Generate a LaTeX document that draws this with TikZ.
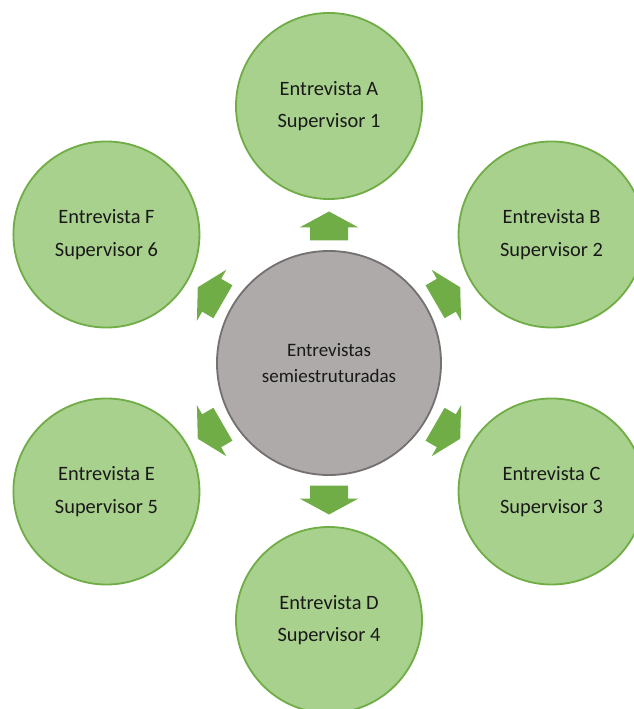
\documentclass[tikz,border=0pt]{standalone}
\usepackage{fontspec}
\setmainfont{Carlito}
\definecolor{leafgreen}{HTML}{A9D18E}
\definecolor{edgegreen}{HTML}{70AD47}
\definecolor{arrowgreen}{HTML}{70AD47}
\definecolor{hubgray}{HTML}{AEAAAA}
\definecolor{hubedge}{HTML}{767171}
\begin{document}
\begin{tikzpicture}[x=0.025cm,y=0.025cm,
	leaf/.style={circle,draw=edgegreen,fill=leafgreen,line width=1.3pt,minimum size=4.65cm,inner sep=0pt,align=center,text=black!90,font=\fontsize{14.5}{23}\selectfont},
	hub/.style={circle,draw=hubedge,fill=hubgray,line width=1.3pt,minimum size=5.6cm,inner sep=0pt,align=center,text=black!90,font=\fontsize{13.5}{19}\selectfont}]
		\useasboundingbox (-329,-346) rectangle (304,363);
		\node[hub] (hub) at (0,0) {Entrevistas\\semiestruturadas};
		\node[leaf] (entA) at (90:257) {Entrevista A\\Supervisor 1};
		\node[leaf] (entB) at (30:257) {Entrevista B\\Supervisor 2};
		\node[leaf] (entC) at (-30:257) {Entrevista C\\Supervisor 3};
		\node[leaf] (entD) at (-90:257) {Entrevista D\\Supervisor 4};
		\node[leaf] (entE) at (-150:257) {Entrevista E\\Supervisor 5};
		\node[leaf] (entF) at (150:257) {Entrevista F\\Supervisor 6};
		%block arrows
		\foreach \a in {90,30,-30,-90,-150,150}{
		\fill[arrowgreen,shift={(\a:137)},rotate=\a-90] (-19,-14.5) -- (19,-14.5) -- (19,-1.5) -- (29.5,-1.5) -- (0,14.5) -- (-29.5,-1.5) -- (-19,-1.5) -- cycle;}
\end{tikzpicture}
\end{document}
